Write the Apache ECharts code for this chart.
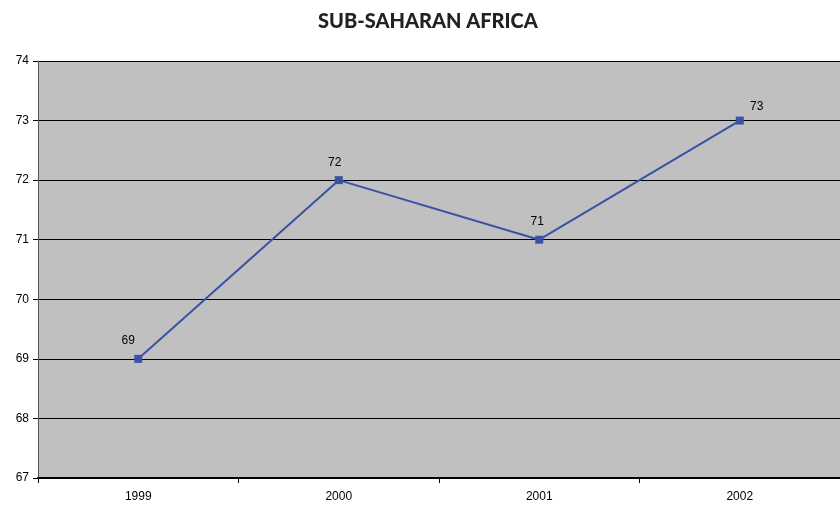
<!DOCTYPE html>
<html>
<head>
<meta charset="utf-8">
<script src="https://cdn.jsdelivr.net/npm/echarts@6/dist/echarts.min.js"></script>
<style>
  html, body { margin: 0; padding: 0; background: #ffffff; }
  #chart { width: 840px; height: 507px; }
</style>
</head>
<body>
<div id="chart"></div>
<script>
// Yearly values for the region
const years = ['1999', '2000', '2001', '2002'];
const values = [69, 72, 71, 73];
// Label nudges per point (x, y in px)
const labelOffsets = [[-10, -2], [-4, -1], [-2, -2], [17, 2]];

const chart = echarts.init(document.getElementById('chart'));

chart.setOption({
  animation: false,
  title: {
    text: 'SUB-SAHARAN AFRICA',
    left: 313,
    top: 7,
    textStyle: { fontFamily: 'Lato', fontWeight: 900, fontSize: 20, color: '#222' }
  },
  grid: { left: 38, right: 0, top: 61, bottom: 29, show: true, backgroundColor: '#c0c0c0', borderWidth: 0 },
  xAxis: {
    type: 'category',
    data: years,
    boundaryGap: true,
    axisLine: { lineStyle: { color: '#000', width: 2 } },
    axisTick: { show: true, length: 5, lineStyle: { color: '#000' } },
    axisLabel: { color: '#000', fontFamily: 'Liberation Sans', fontSize: 12, margin: 13 }
  },
  yAxis: {
    type: 'value',
    min: 67,
    max: 74,
    interval: 1,
    axisLine: { show: true, lineStyle: { color: '#555', width: 1 } },
    axisTick: { show: true, length: 5, lineStyle: { color: '#000' } },
    axisLabel: { color: '#000', fontFamily: 'Liberation Sans', fontSize: 12, margin: 9 },
    splitLine: { lineStyle: { color: '#000', width: 1 } }
  },
  series: [{
    type: 'line',
    data: values.map((v, i) => ({
      value: v,
      label: { offset: labelOffsets[i] }
    })),
    symbol: 'rect',
    symbolSize: 8,
    lineStyle: { color: '#3a51a6', width: 2 },
    itemStyle: { color: '#3a51a6' },
    label: {
      show: true,
      position: 'top',
      distance: 6,
      color: '#000',
      fontFamily: 'Liberation Sans',
      fontSize: 12
    }
  }]
});
</script>
</body>
</html>
